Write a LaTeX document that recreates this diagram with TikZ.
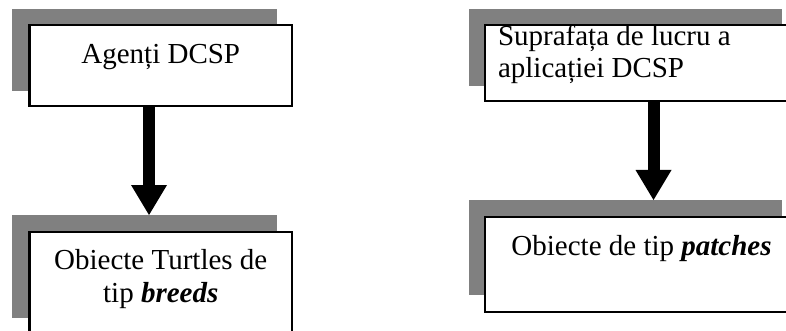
\documentclass[tikz,border=0pt]{standalone}
\usepackage{fontspec}
\setmainfont{Liberation Serif}
\usetikzlibrary{arrows.meta}
\definecolor{shadowgray}{HTML}{808080}
\begin{document}
\begin{tikzpicture}[x=1pt,y=-1pt,
  shadowbox/.style={fill=shadowgray,draw=none,inner sep=0pt,outer sep=0pt,anchor=north west},
  mainbox/.style={draw=black,fill=white,line width=2.2pt,inner sep=0pt,outer sep=0pt,anchor=north west},
  boxtext/.style={font=\fontsize{29}{32.5}\selectfont,inner sep=0pt,outer sep=0pt},
  flowarrow/.style={line width=12pt,-{Triangle[width=36pt,length=30pt,line width=0pt]}}]
  \useasboundingbox (0,0) rectangle (786,331);
  \clip (0,0) rectangle (786,331);
  % grey offset shadows
  \node[shadowbox,minimum width=265pt,minimum height=82pt] (g1) at (12,9) {};
  \node[shadowbox,minimum width=265pt,minimum height=103pt] (g2) at (12,215) {};
  \node[shadowbox,minimum width=313pt,minimum height=77pt] (g3) at (469,9) {};
  \node[shadowbox,minimum width=313pt,minimum height=95pt] (g4) at (469,200) {};
  % framed boxes
  \node[mainbox,minimum width=262.5pt,minimum height=81.3pt] (b1) at (29.5,25) {};
  \node[mainbox,minimum width=262.5pt,minimum height=130pt] (b2) at (29.5,232) {};
  \node[mainbox,minimum width=313pt,minimum height=76pt] (b3) at (485,25) {};
  \node[mainbox,minimum width=313pt,minimum height=95pt] (b4) at (485,217) {};
  % labels (base anchor of a two-line label sits on its last line)
  \node[boxtext,anchor=base] (t1) at ([yshift=-39pt]b1.north) {Agenți DCSP};
  \node[boxtext,anchor=base,align=center] (t2) at ([yshift=-70pt]b2.north)
    {Obiecte Turtles de\\tip \textbf{\textit{breeds}}};
  \node[boxtext,anchor=base west,align=left] (t3) at ([xshift=13pt,yshift=-53pt]b3.north west)
    {Suprafața de lucru a\\aplicației DCSP};
  \node[boxtext,anchor=base] (t4) at ([yshift=-38pt]b4.north) {Obiecte de tip \textbf{\textit{patches}}};
  % arrows
  \draw[flowarrow] ([xshift=-11.75pt]b1.south) -- ([xshift=-11.75pt]b1.south |- g2.north);
  \draw[flowarrow] ([xshift=12pt]b3.south) -- ([xshift=12pt]b3.south |- g4.north);
\end{tikzpicture}
\end{document}
